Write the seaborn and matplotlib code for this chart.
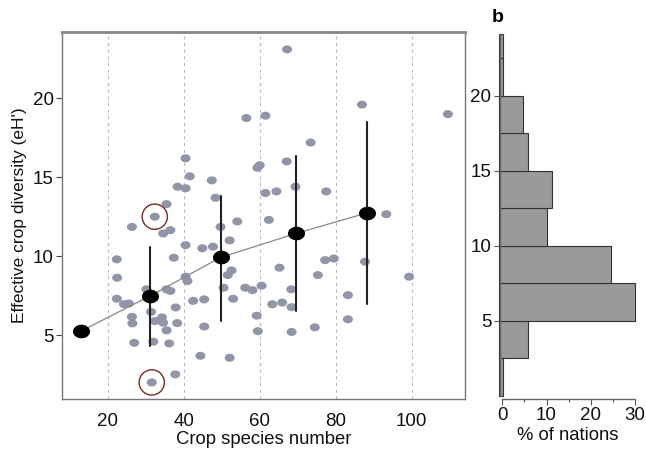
import numpy as np
import pandas as pd
import matplotlib
matplotlib.use("Agg")
import matplotlib.pyplot as plt
import seaborn as sns
from matplotlib.path import Path

# ---- data ----
species_number = [67.2, 56.5, 61.5, 86.9, 109.5, 73.4, 40.5, 67.1, 60.0, 59.4,
                  41.6, 47.4, 38.4, 40.5, 69.4, 61.5, 64.4, 77.5, 48.4, 35.5,
                  32.4, 62.4, 54.1, 93.3, 26.4, 49.7, 36.5, 34.6, 52.1, 40.5,
                  44.9, 47.7, 22.4, 37.4, 77.2, 79.5, 87.7, 65.2, 52.6, 51.6,
                  22.5, 40.5, 41.0, 75.3, 99.3, 50.5, 30.2, 35.5, 36.5, 56.2,
                  58.1, 60.5, 68.3, 22.4, 24.3, 25.6, 42.5, 45.4, 53.0, 63.3,
                  65.9, 68.4, 83.2, 37.9, 31.4, 26.4, 26.5, 32.4, 34.3, 34.6,
                  38.3, 59.2, 83.2, 35.5, 45.4, 59.5, 68.4, 74.5, 27.0, 32.0,
                  36.2, 44.4, 52.1, 37.8, 31.6]
effective_diversity = [23.1, 18.75, 18.9, 19.6, 19.0, 17.2, 16.2, 16.0, 15.76, 15.6,
                       15.06, 14.8, 14.4, 14.3, 14.4, 14.0, 14.1, 14.1, 13.7, 13.3,
                       12.5, 12.3, 12.2, 12.66, 11.85, 11.85, 11.65, 11.44, 11.0, 10.7,
                       10.5, 10.6, 9.8, 9.9, 9.75, 9.85, 9.65, 9.27, 9.1, 8.8,
                       8.63, 8.7, 8.42, 8.8, 8.7, 8.0, 7.9, 7.9, 7.8, 8.0,
                       7.85, 8.13, 7.9, 7.3, 6.96, 7.0, 7.17, 7.26, 7.3, 6.95,
                       7.06, 6.77, 7.53, 6.75, 6.47, 6.16, 5.74, 5.89, 6.12, 5.78,
                       5.76, 6.23, 6.0, 5.3, 5.54, 5.25, 5.2, 5.49, 4.51, 4.58,
                       4.47, 3.69, 3.56, 2.51, 2.0]
circled_x = [32.4, 31.6]
circled_y = [12.5, 2.0]

bin_species = [13.0, 31.1, 49.7, 69.6, 88.2]
bin_mean = [5.25, 7.47, 9.92, 11.44, 12.74]
bin_low = [np.nan, 4.32, 5.9, 6.52, 6.96]
bin_high = [np.nan, 10.6, 13.8, 16.35, 18.5]

hist_edges = [0, 2.5, 5, 7.5, 10, 12.5, 15, 17.5, 20, 22.5, 24.1]
hist_pct = [0, 5.8, 30.0, 24.5, 10.2, 11.2, 5.8, 4.7, 0, 0]

x_ticks = [20, 40, 60, 80, 100]
y_ticks = [5, 10, 15, 20]
hist_xticks = [0, 10, 20, 30]

# ---- style ----
sns.set_theme(style="white")
plt.rcParams["font.family"] = ["Liberation Sans", "DejaVu Sans"]
plt.rcParams["font.size"] = 13
plt.rcParams["text.color"] = "#111111"
plt.rcParams["axes.labelcolor"] = "#111111"
plt.rcParams["xtick.labelcolor"] = "#111111"
plt.rcParams["ytick.labelcolor"] = "#111111"

fig = plt.figure(figsize=(6.46, 4.51), dpi=100)
ax = fig.add_axes([0.096, 0.1153, 0.6238, 0.8137])
axh = fig.add_axes([0.7707, 0.1153, 0.2156, 0.8182])

# elliptical marker
t = np.linspace(0, 2 * np.pi, 60)
ell = Path(np.column_stack([1.25 * np.cos(t), np.sin(t)]), closed=True)

df = pd.DataFrame({"x": species_number, "y": effective_diversity})
sns.scatterplot(data=df, x="x", y="y", ax=ax, marker=ell, s=52,
                color="#9195a8", edgecolor="none", linewidth=0, zorder=3)

# circled outliers
ax.scatter(circled_x, circled_y, s=330, facecolors="none",
           edgecolors="#7a2a22", linewidths=1.0, zorder=4)

# error bars
for xv, lo, hi in zip(bin_species, bin_low, bin_high):
    if not np.isnan(lo):
        ax.plot([xv, xv], [lo, hi], color="#222222", lw=1.5, zorder=4)

mdf = pd.DataFrame({"x": bin_species, "y": bin_mean})
sns.lineplot(data=mdf, x="x", y="y", ax=ax, color="#888888", lw=0.9,
             zorder=4, estimator=None, sort=False)
ax.scatter(bin_species, bin_mean, marker=ell, s=150, color="black",
           zorder=5, linewidths=0)

ax.set_xlim(8, 114)
ax.set_ylim(0.95, 24.2)
ax.set_xticks(x_ticks)
ax.set_yticks(y_ticks)
ax.xaxis.grid(True, linestyle=(0, (3, 3)), color="#bbbbbb", lw=0.8)
ax.yaxis.grid(False)
ax.set_axisbelow(True)
for s in ax.spines.values():
    s.set_color("#777777")
    s.set_linewidth(1.0)
ax.spines["top"].set_linewidth(2.0)
ax.spines["top"].set_color("#888888")
ax.tick_params(axis="y", which="major", left=True, length=4, width=0.8,
               color="#444444", labelsize=13.5, pad=2)
ax.tick_params(axis="x", which="major", bottom=False, labelsize=13.5, pad=4)
ax.set_xlabel("Crop species number", fontsize=13.3, labelpad=1)
ax.set_ylabel("Effective crop diversity (eH')", fontsize=12.5, labelpad=4)

# ---- histogram panel ----
edges = np.array(hist_edges)
pct = np.array(hist_pct)
base = -0.75
widths = np.where(pct > 0, pct - base, 1.0)
axh.barh(edges[:-1], widths, height=np.diff(edges), left=base, align="edge",
         color="#9a9a9a", edgecolor="#333333", linewidth=0.8, zorder=2)

axh.set_xlim(-1.0, 30.5)
axh.set_ylim(-0.2, 24.4)
axh.set_xticks(hist_xticks)
axh.set_xticks([5, 15, 25], minor=True)
axh.set_yticks(y_ticks)
for side in ["top", "right"]:
    axh.spines[side].set_visible(False)
axh.spines["left"].set_bounds(0, 24.1)
axh.spines["left"].set_position(("data", -0.6))
axh.spines["bottom"].set_bounds(0, 30)
for side in ["left", "bottom"]:
    axh.spines[side].set_color("#666666")
    axh.spines[side].set_linewidth(1.0)
axh.tick_params(axis="both", which="major", length=4, width=0.8,
                color="#555555", labelsize=13.5, pad=2, left=True, bottom=True)
axh.tick_params(axis="x", which="minor", length=2.5, width=0.8,
                color="#555555", bottom=True)
axh.grid(False)
axh.set_xlabel("% of nations", fontsize=13.3, labelpad=2)
fig.text(0.7615, 0.962, "b", fontsize=14, fontweight="bold",
         ha="left", va="center", color="black")

fig.savefig("out.png", dpi=100)
